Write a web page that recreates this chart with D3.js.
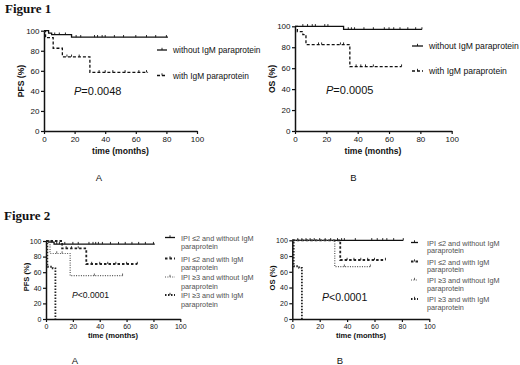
<!DOCTYPE html>
<html><head><meta charset="utf-8">
<script src="https://cdn.jsdelivr.net/npm/d3@7"></script>
<style>
body{margin:0;background:#fff;}
svg{display:block;}
text{font-family:"Liberation Sans",Arial,sans-serif;fill:#111;}
</style></head><body>
<svg id="c" width="520" height="365"></svg>
<script>
// ---------------- DATA ----------------
const xTicks = [0, 20, 40, 60, 80, 100];
const yTicks = [0, 20, 40, 60, 80, 100];

// Figure 1A (PFS)
const f1aLabels = ["without IgM paraprotein", "with IgM paraprotein"];
const f1aWithoutSteps = [[0,100],[3,97.5],[5,96],[18,93.5]];
const f1aWithoutEnd = 81;
const f1aWithoutCens = [7,10,14,21,24,33,35,38,40,46,52,60,67,73,80];
const f1aWithSteps = [[0,100],[1,93],[6,82.5],[12,74],[30,58.5]];
const f1aWithEnd = 68;
const f1aWithCens = [15,18,23,36,40,45,53,62,67];
const f1aP = "=0.0048";

// Figure 1B (OS)
const f1bLabels = ["without IgM paraprotein", "with IgM paraprotein"];
const f1bWithoutSteps = [[0,100],[31,97]];
const f1bWithoutEnd = 81;
const f1bWithoutCens = [5,8,11,13,19,21,34,36,38,44,50,57,60,63,67,72,77,81];
const f1bWithSteps = [[0,100],[1.5,95],[5,92],[7,82.5],[35,61.5]];
const f1bWithEnd = 68;
const f1bWithCens = [15,17,29,31,39,42,45,50,68];
const f1bP = "=0.0005";

// Figure 2 legend
const f2Labels = [
  ["IPI \u22642 and without IgM", "paraprotein"],
  ["IPI \u22642 and with IgM", "paraprotein"],
  ["IPI \u22653 and without IgM", "paraprotein"],
  ["IPI \u22653 and with IgM", "paraprotein"]
];
// Figure 2A (PFS)
const f2aS1Steps = [[0,100],[2,98.5],[6,96]];
const f2aS1End = 81;
const f2aS1Cens = [4,8,10,14,20,24,32,35,37,39,42,48,54,59,64,69,74,80];
const f2aS2Steps = [[0,100],[12,90.5],[30,70.5]];
const f2aS2End = 68;
const f2aS2Cens = [15,19,24,34,40,46,52,60,68];
const f2aS3Steps = [[0,100],[3,84],[18,55.5]];
const f2aS3End = 57;
const f2aS3Cens = [8,12,36,57];
const f2aS4Steps = [[0,100],[1,67],[5,65],[7,0]];
const f2aS4End = 7;
const f2aP = "<0.0001";

// Figure 2B (OS)
const f2bS1Steps = [[0,100]];
const f2bS1End = 81;
const f2bS1Cens = [4,7,10,13,16,20,24,28,33,36,38,46,58,62,66,69,74,81];
const f2bS2Steps = [[0,100],[35,75]];
const f2bS2End = 68;
const f2bS2Cens = [40,45,50,55,60,68];
const f2bS3Steps = [[0,100],[31,66.5]];
const f2bS3End = 57;
const f2bS3Cens = [38,57];
const f2bS4Steps = [[0,100],[1,67],[5,65],[7,0]];
const f2bS4End = 7;
const f2bP = "<0.0001";

// ---------------- DRAWING ----------------
const svg = d3.select("#c");

const styles = {
  solid: {dash: null, w: 1.3, c: "#111"},
  dash1: {dash: "3,2", w: 1.3, c: "#111"},
  dash2: {dash: "2.5,2", w: 1.8, c: "#222"},
  dot:   {dash: "1,1.4", w: 1.2, c: "#555"},
  dash3: {dash: "1.5,1.5", w: 1.8, c: "#222"}
};

function survAt(steps, t) {
  let s = steps[0][1];
  for (const st of steps) if (st[0] <= t) s = st[1];
  return s;
}

function panel(cfg) {
  const x = d3.scaleLinear().domain([0, 100]).range([cfg.x0, cfg.x1]);
  const y = d3.scaleLinear().domain([0, 100]).range([cfg.y0, cfg.y1]);
  const g = svg.append("g");

  const ax = g.append("g").attr("transform", `translate(0,${cfg.y0})`)
    .call(d3.axisBottom(x).tickValues(xTicks).tickSize(3).tickSizeOuter(0).tickPadding(2));
  const ay = g.append("g").attr("transform", `translate(${cfg.x0},0)`)
    .call(d3.axisLeft(y).tickValues(yTicks).tickSize(3).tickSizeOuter(0).tickPadding(1.5));
  [ax, ay].forEach(a => {
    a.select(".domain").attr("stroke", "#111").attr("stroke-width", 1.5);
    a.selectAll(".tick line").attr("stroke", "#111").attr("stroke-width", 1.2);
    a.selectAll(".tick text").style("font-family", '"Liberation Sans",Arial,sans-serif')
      .style("font-size", cfg.tickFs + "px").attr("fill", "#111");
  });

  const line = d3.line().x(d => x(d[0])).y(d => y(d[1])).curve(d3.curveStepAfter);
  cfg.series.forEach(s => {
    const st = styles[s.style];
    const pts = s.steps.concat([[s.end, s.steps[s.steps.length - 1][1]]]);
    g.append("path").attr("d", line(pts)).attr("fill", "none")
      .attr("stroke", st.c).attr("stroke-width", st.w)
      .attr("stroke-dasharray", st.dash);
    (s.cens || []).forEach(t => {
      const v = survAt(s.steps, t);
      g.append("line").attr("x1", x(t)).attr("x2", x(t))
        .attr("y1", y(v)).attr("y2", y(v) - 2.2)
        .attr("stroke", st.c).attr("stroke-width", 0.9);
    });
  });

  // axis titles
  g.append("text").attr("transform", `translate(${cfg.ylx},${cfg.yly}) rotate(-90)`)
    .attr("text-anchor", "middle").attr("dominant-baseline", "central")
    .style("font-weight", "bold").style("font-size", cfg.labFs + "px").text(cfg.ylab);
  g.append("text").attr("x", cfg.xlx).attr("y", cfg.xly)
    .attr("text-anchor", "middle").attr("dominant-baseline", "central")
    .style("font-weight", "bold").style("font-size", cfg.labFs + "px").text("time (months)");

  // p value
  const pt = g.append("text").attr("x", cfg.px).attr("y", cfg.py)
    .attr("dominant-baseline", "central").style("font-size", cfg.pFs + "px");
  pt.append("tspan").style("font-style", "italic").text("P");
  pt.append("tspan").text(cfg.p);

  // panel letter
  g.append("text").attr("x", cfg.lx).attr("y", cfg.ly).attr("text-anchor", "middle")
    .attr("dominant-baseline", "central").style("font-size", "9.5px").text(cfg.letter);

  // legend
  cfg.legend.forEach((L, i) => {
    const st = styles[cfg.series[i].style];
    const yy = L.y;
    g.append("line").attr("x1", cfg.legX0).attr("x2", cfg.legX1).attr("y1", yy).attr("y2", yy)
      .attr("stroke", st.c).attr("stroke-width", st.w).attr("stroke-dasharray", st.dash);
    const mx = (cfg.legX0 + cfg.legX1) / 2;
    g.append("line").attr("x1", mx).attr("x2", mx).attr("y1", yy).attr("y2", yy - 2.2)
      .attr("stroke", st.c).attr("stroke-width", 0.9);
    const tx = g.append("text").attr("x", cfg.legTx).attr("y", yy)
      .attr("dominant-baseline", "central").style("font-size", cfg.legFs + "px")
      .style("fill", cfg.legColor);
    L.lines.forEach((ln, j) => {
      tx.append("tspan").attr("x", cfg.legTx).attr("dy", j === 0 ? 0 : cfg.legLh).text(ln);
    });
  });
}

// Titles
svg.append("text").attr("x", 5).attr("y", 12.5)
  .style("font-family", '"Liberation Serif","Times New Roman",serif')
  .style("font-weight", "bold").style("font-size", "13px").text("Figure 1");
svg.append("text").attr("x", 4).attr("y", 220)
  .style("font-family", '"Liberation Serif","Times New Roman",serif')
  .style("font-weight", "bold").style("font-size", "13px").text("Figure 2");

panel({
  x0: 44, x1: 197, y0: 131, y1: 30.7, tickFs: 8, labFs: 8.6, pFs: 11,
  ylab: "PFS (%)", ylx: 20.5, yly: 81, xlx: 120.5, xly: 150.7,
  px: 74, py: 91, p: f1aP, letter: "A", lx: 99, ly: 177,
  legX0: 157, legX1: 167, legTx: 173, legFs: 8.4, legColor: "#111", legLh: 8,
  series: [
    {steps: f1aWithoutSteps, end: f1aWithoutEnd, cens: f1aWithoutCens, style: "solid"},
    {steps: f1aWithSteps, end: f1aWithEnd, cens: f1aWithCens, style: "dash1"}
  ],
  legend: [{y: 50, lines: [f1aLabels[0]]}, {y: 75.5, lines: [f1aLabels[1]]}]
});

panel({
  x0: 295, x1: 451.7, y0: 131, y1: 26.3, tickFs: 8, labFs: 8.6, pFs: 11,
  ylab: "OS (%)", ylx: 271.5, yly: 79, xlx: 373, xly: 150.7,
  px: 326, py: 90, p: f1bP, letter: "B", lx: 353.3, ly: 177,
  legX0: 412, legX1: 423, legTx: 429, legFs: 8.6, legColor: "#111", legLh: 8,
  series: [
    {steps: f1bWithoutSteps, end: f1bWithoutEnd, cens: f1bWithoutCens, style: "solid"},
    {steps: f1bWithSteps, end: f1bWithEnd, cens: f1bWithCens, style: "dash1"}
  ],
  legend: [{y: 46, lines: [f1bLabels[0]]}, {y: 71, lines: [f1bLabels[1]]}]
});

panel({
  x0: 46, x1: 180.3, y0: 319, y1: 241, tickFs: 7, labFs: 7.6, pFs: 8.6,
  ylab: "PFS (%)", ylx: 26, yly: 277, xlx: 113, xly: 335,
  px: 72, py: 295, p: f2aP, letter: "A", lx: 75, ly: 360,
  legX0: 165, legX1: 175, legTx: 181, legFs: 7.3, legColor: "#505050", legLh: 8.5,
  series: [
    {steps: f2aS1Steps, end: f2aS1End, cens: f2aS1Cens, style: "solid"},
    {steps: f2aS2Steps, end: f2aS2End, cens: f2aS2Cens, style: "dash2"},
    {steps: f2aS3Steps, end: f2aS3End, cens: f2aS3Cens, style: "dot"},
    {steps: f2aS4Steps, end: f2aS4End, cens: [], style: "dash3"}
  ],
  legend: [
    {y: 237.5, lines: f2Labels[0]}, {y: 258.5, lines: f2Labels[1]},
    {y: 277, lines: f2Labels[2]}, {y: 295, lines: f2Labels[3]}
  ]
});

panel({
  x0: 292.3, x1: 429.3, y0: 319, y1: 240.3, tickFs: 7, labFs: 7.6, pFs: 10.5,
  ylab: "OS (%)", ylx: 272, yly: 278, xlx: 361, xly: 335,
  px: 322, py: 297, p: f2bP, letter: "B", lx: 340, ly: 360,
  legX0: 411, legX1: 418, legTx: 427, legFs: 7.3, legColor: "#505050", legLh: 7.5,
  series: [
    {steps: f2bS1Steps, end: f2bS1End, cens: f2bS1Cens, style: "solid"},
    {steps: f2bS2Steps, end: f2bS2End, cens: f2bS2Cens, style: "dash2"},
    {steps: f2bS3Steps, end: f2bS3End, cens: f2bS3Cens, style: "dot"},
    {steps: f2bS4Steps, end: f2bS4End, cens: [], style: "dash3"}
  ],
  legend: [
    {y: 242.5, lines: f2Labels[0]}, {y: 261.5, lines: f2Labels[1]},
    {y: 280, lines: f2Labels[2]}, {y: 299, lines: f2Labels[3]}
  ]
});
</script>
</body></html>
